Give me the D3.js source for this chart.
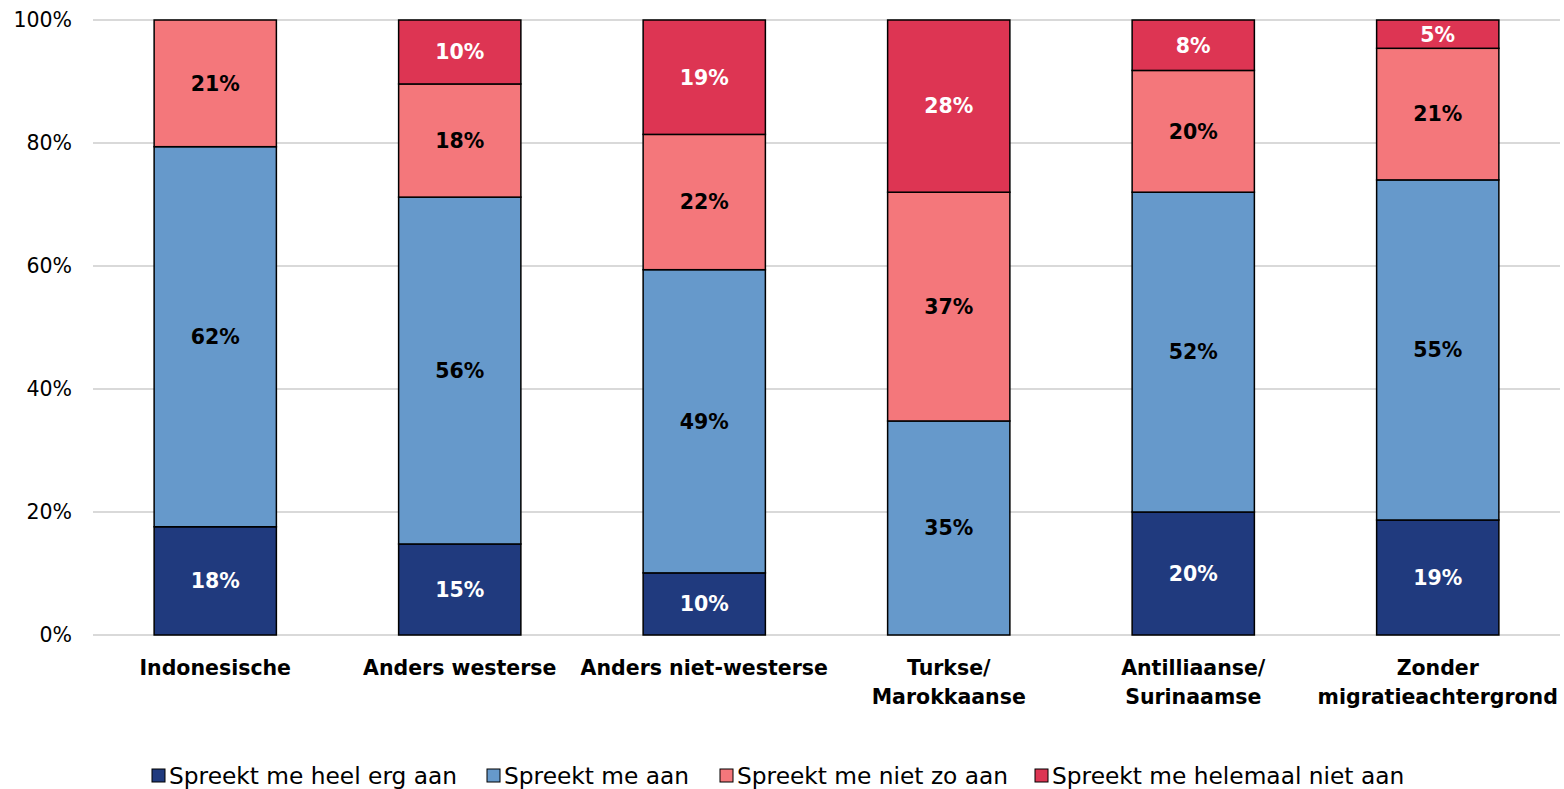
<!DOCTYPE html>
<html>
<head>
<meta charset="utf-8">
<script src="https://cdn.jsdelivr.net/npm/d3@7"></script>
<style>
  body { margin: 0; background: #fff; }
  text { font-family: "DejaVu Sans", sans-serif; }
</style>
</head>
<body>
<svg id="chart" width="1564" height="789"></svg>
<script>
// categories (each can have two lines)
var categories = [
    ["Indonesische"],
    ["Anders westerse"],
    ["Anders niet-westerse"],
    ["Turkse/", "Marokkaanse"],
    ["Antilliaanse/", "Surinaamse"],
    ["Zonder", "migratieachtergrond"]
];

var seriesNames = [
    "Spreekt me heel erg aan",
    "Spreekt me aan",
    "Spreekt me niet zo aan",
    "Spreekt me helemaal niet aan"
];

// values in percent
var heelErg  = [17.6, 14.8, 10.1, 0,    20.0, 18.7];
var aan      = [61.8, 56.4, 49.3, 34.8, 52.0, 55.3];
var nietZo   = [20.6, 18.4, 22.0, 37.2, 19.8, 21.4];
var helemaal = [0,    10.4, 18.6, 28.0, 8.2,  4.6];

var tickValues = [0, 20, 40, 60, 80, 100];

var colors = ["#203a7e", "#6699cb", "#f4777b", "#dd3553"];
var labelColors = ["#fff", "#000", "#000", "#fff"];

var series = [heelErg, aan, nietZo, helemaal];

var rows = categories.map(function (c, i) {
    var r = { idx: i };
    series.forEach(function (s, k) { r["s" + k] = s[i]; });
    return r;
});

var stack = d3.stack().keys(["s0", "s1", "s2", "s3"]);
var layers = stack(rows);

var svg = d3.select("#chart");
var plotLeft = 93, plotRight = 1560, plotTop = 20, plotBottom = 635;

var x = d3.scaleBand()
    .domain(d3.range(categories.length))
    .range([plotLeft, plotRight])
    .paddingInner(0.5)
    .paddingOuter(0.25);

var y = d3.scaleLinear().domain([0, 100]).range([plotBottom, plotTop]);

// gridlines
svg.append("g")
    .selectAll("line")
    .data(tickValues)
    .enter()
    .append("line")
    .attr("x1", plotLeft)
    .attr("x2", plotRight)
    .attr("y1", function (d) { return y(d); })
    .attr("y2", function (d) { return y(d); })
    .attr("stroke", "#d9d9d9")
    .attr("stroke-width", 2);

// y axis labels
var yAxis = d3.axisLeft(y)
    .tickValues(tickValues)
    .tickFormat(function (d) { return d + "%"; })
    .tickSize(0)
    .tickPadding(0);

var ya = svg.append("g")
    .attr("transform", "translate(72,0)")
    .call(yAxis);
ya.select(".domain").remove();
ya.selectAll("text")
    .attr("font-size", 20.5)
    .attr("fill", "#000")
    .style("font-family", "DejaVu Sans, sans-serif");

// bars
var groups = svg.append("g")
    .selectAll("g")
    .data(layers)
    .enter()
    .append("g")
    .attr("fill", function (d, i) { return colors[i]; });

groups.selectAll("rect")
    .data(function (d) { return d.filter(function (p) { return p[1] - p[0] > 0; }); })
    .enter()
    .append("rect")
    .attr("x", function (p) { return x(p.data.idx); })
    .attr("width", x.bandwidth())
    .attr("y", function (p) { return y(p[1]); })
    .attr("height", function (p) { return y(p[0]) - y(p[1]); })
    .attr("stroke", "#000")
    .attr("stroke-width", 1.5);

// segment labels
layers.forEach(function (layer, k) {
    svg.append("g")
        .selectAll("text")
        .data(layer.filter(function (p) { return p[1] - p[0] > 0; }))
        .enter()
        .append("text")
        .attr("x", function (p) { return x(p.data.idx) + x.bandwidth() / 2; })
        .attr("y", function (p) { return (y(p[0]) + y(p[1])) / 2; })
        .attr("dy", "0.36em")
        .attr("text-anchor", "middle")
        .attr("font-size", 20.5)
        .attr("font-weight", "bold")
        .attr("fill", labelColors[k])
        .text(function (p) { return Math.round(p[1] - p[0]) + "%"; });
});

// category labels
var cat = svg.append("g")
    .selectAll("text")
    .data(categories)
    .enter()
    .append("text")
    .attr("x", function (d, i) { return x(i) + x.bandwidth() / 2; })
    .attr("y", 675)
    .attr("text-anchor", "middle")
    .attr("font-size", 20.5)
    .attr("font-weight", "bold")
    .attr("fill", "#000");

cat.selectAll("tspan")
    .data(function (d) { return d; })
    .enter()
    .append("tspan")
    .attr("x", function () { return this.parentNode.getAttribute("x"); })
    .attr("dy", function (d, i) { return i === 0 ? 0 : 29; })
    .text(function (d) { return d; });

// legend
var legendX = [152, 487, 720, 1035];
var leg = svg.append("g")
    .selectAll("g")
    .data(seriesNames)
    .enter()
    .append("g")
    .attr("transform", function (d, i) { return "translate(" + legendX[i] + ",776)"; });

leg.append("rect")
    .attr("x", 0)
    .attr("y", -7)
    .attr("width", 13)
    .attr("height", 13)
    .attr("fill", function (d, i) { return colors[i]; })
    .attr("stroke", "#000")
    .attr("stroke-width", 1);

leg.append("text")
    .attr("x", 17)
    .attr("dy", "0.35em")
    .attr("font-size", 23.3)
    .attr("fill", "#000")
    .text(function (d) { return d; });
</script>
</body>
</html>
